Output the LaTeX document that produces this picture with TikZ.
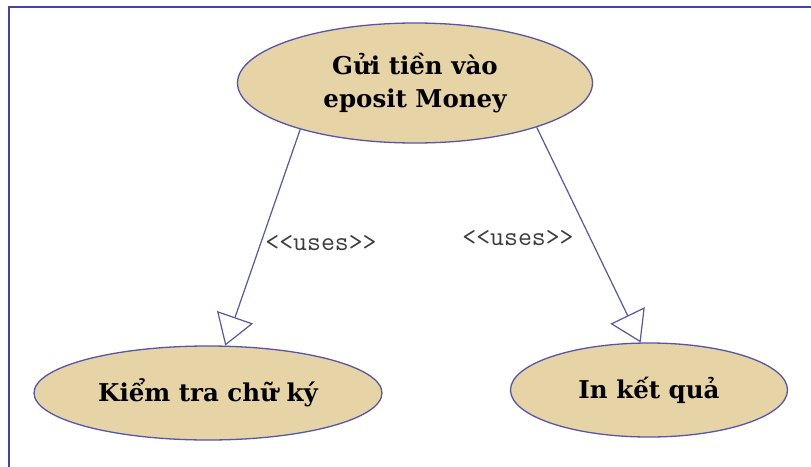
\documentclass[tikz,border=0pt]{standalone}
\usepackage{fontspec}
\setmainfont{DejaVu Serif}
\usetikzlibrary{shapes.geometric,arrows.meta}
\definecolor{frameblue}{HTML}{4444A6}
\definecolor{edgeblue}{HTML}{5555AC}
\definecolor{parch}{HTML}{E6D4A6}
\definecolor{labelgray}{HTML}{3C3C3C}
\tikzset{
  usecase/.style={ellipse, draw=edgeblue, line width=1.3pt, fill=parch, inner sep=0pt,
    align=center, font=\fontsize{24.5}{33}\selectfont\bfseries},
  uses/.style={draw=edgeblue, line width=1.2pt,
    -{Triangle[open, length=30pt, width=38pt, line width=1.2pt]}},
  stereo/.style={font=\ttfamily\fontsize{27}{30}\selectfont, text=labelgray, inner sep=0pt}
}
\begin{document}
\begin{tikzpicture}[x=1pt, y=-1pt]
\useasboundingbox (0,0) rectangle (811,466);
\draw[frameblue, line width=2pt] (9,467) -- (9,7) -- (812,7);
\node[usecase, minimum width=355pt, minimum height=120pt] (send) at (415,83) {Gửi tiền vào\\eposit Money};
\node[usecase, minimum width=348pt, minimum height=94pt] (check) at (208,393) {Kiểm tra chữ ký};
\node[usecase, minimum width=277pt, minimum height=94pt] (print) at (649,390) {In kết quả};
\draw[uses] (send.202) -- (check.70);
\draw[uses] (send.340.5) -- (print.100);
\node[stereo] (l1) at (321,243) {<{}<uses>{}>};
\node[stereo] (l2) at (518,238) {<{}<uses>{}>};
\end{tikzpicture}
\end{document}
